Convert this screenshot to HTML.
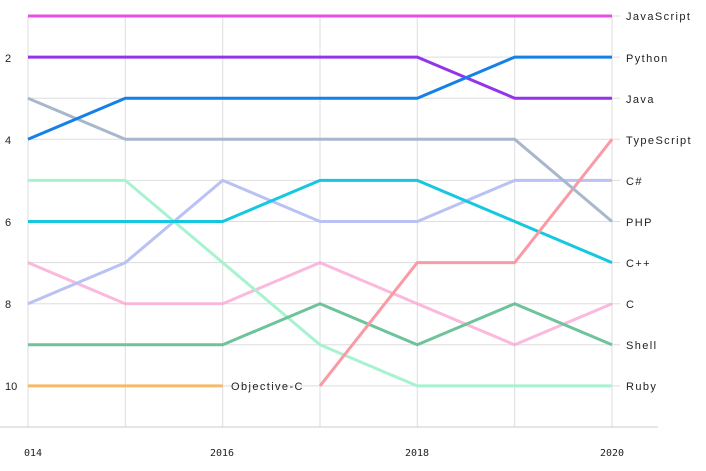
<!DOCTYPE html>
<html><head><style>body{margin:0;background:#fff}svg{display:block}text{font-family:"Liberation Sans",sans-serif;font-size:11px;fill:#222}.m{font-family:"DejaVu Sans Mono","Liberation Mono",monospace;font-size:10px}</style></head><body>
<svg width="706" height="471" viewBox="0 0 706 471">
<g stroke="#ddd" stroke-width="1">
<line x1="28" y1="16" x2="28" y2="427"/><line x1="125.3" y1="16" x2="125.3" y2="427"/><line x1="222.7" y1="16" x2="222.7" y2="427"/><line x1="320" y1="16" x2="320" y2="427"/><line x1="417.3" y1="16" x2="417.3" y2="427"/><line x1="514.7" y1="16" x2="514.7" y2="427"/><line x1="612" y1="16" x2="612" y2="427"/>
<line x1="28" y1="57.1" x2="620" y2="57.1"/><line x1="28" y1="98.2" x2="620" y2="98.2"/><line x1="28" y1="139.3" x2="620" y2="139.3"/><line x1="28" y1="180.4" x2="620" y2="180.4"/><line x1="28" y1="221.5" x2="620" y2="221.5"/><line x1="28" y1="262.6" x2="620" y2="262.6"/><line x1="28" y1="303.7" x2="620" y2="303.7"/><line x1="28" y1="344.8" x2="620" y2="344.8"/><line x1="28" y1="385.9" x2="620" y2="385.9"/><line x1="612" y1="16" x2="620" y2="16"/>
<line x1="0" y1="427" x2="658" y2="427" stroke="#ccc"/>
</g>
<g fill="none" stroke-width="3" stroke-linejoin="round">
<polyline stroke="#f9a8d4" stroke-opacity="0.8" points="28,262.6 125.3,303.7 222.7,303.7 320,262.6 417.3,303.7 514.7,344.8 612,303.7"/>
<polyline stroke="#a7f3d0" points="28,180.4 125.3,180.4 222.7,262.6 320,344.8 417.3,385.9 514.7,385.9 612,385.9"/>
<polyline stroke="#6fc39a" points="28,344.8 125.3,344.8 222.7,344.8 320,303.7 417.3,344.8 514.7,303.7 612,344.8"/>
<polyline stroke="#b9c1f5" points="28,303.7 125.3,262.6 222.7,180.4 320,221.5 417.3,221.5 514.7,180.4 612,180.4"/>
<polyline stroke="#15c8e0" points="28,221.5 125.3,221.5 222.7,221.5 320,180.4 417.3,180.4 514.7,221.5 612,262.6"/>
<polyline stroke="#fa9aa5" points="320,385.9 417.3,262.6 514.7,262.6 612,139.3"/>
<polyline stroke="#f6b96a" points="28,385.9 125.3,385.9 222.7,385.9"/>
<polyline stroke="#a8b8cc" points="28,98.2 125.3,139.3 222.7,139.3 320,139.3 417.3,139.3 514.7,139.3 612,221.5"/>
<polyline stroke="#9333ea" points="28,57.1 125.3,57.1 222.7,57.1 320,57.1 417.3,57.1 514.7,98.2 612,98.2"/>
<polyline stroke="#1580e8" points="28,139.3 125.3,98.2 222.7,98.2 320,98.2 417.3,98.2 514.7,57.1 612,57.1"/>
<polyline stroke="#e94ee6" points="28,16 612,16"/>
</g>
<g letter-spacing="1.4">
<text x="626" y="20">JavaScript</text><text x="626" y="62">Python</text><text x="626" y="103">Java</text><text x="626" y="144">TypeScript</text><text x="626" y="185">C#</text><text x="626" y="226">PHP</text><text x="626" y="267">C++</text><text x="626" y="308">C</text><text x="626" y="349">Shell</text><text x="626" y="390">Ruby</text><text x="231" y="390">Objective-C</text>
</g>
<text x="5" y="62">2</text><text x="5" y="144">4</text><text x="5" y="226">6</text><text x="5" y="308">8</text><text x="5" y="390">10</text>
<text class="m" x="24" y="456">014</text><text class="m" x="210" y="456">2016</text><text class="m" x="405" y="456">2018</text><text class="m" x="600" y="456">2020</text>
</svg>
</body></html>
